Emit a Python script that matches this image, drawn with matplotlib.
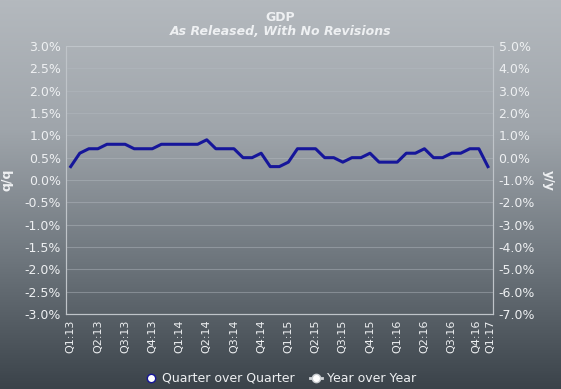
import numpy as np
import matplotlib.pyplot as plt
import matplotlib.transforms as mtransforms
from matplotlib.lines import Line2D
from matplotlib.colors import LinearSegmentedColormap

# GDP q/q as released (%), one point per release
qoq = [0.3, 0.6, 0.7, 0.7, 0.8, 0.8, 0.8, 0.7, 0.7, 0.7,
       0.8, 0.8, 0.8, 0.8, 0.8, 0.9, 0.7, 0.7, 0.7, 0.5,
       0.5, 0.6, 0.3, 0.3, 0.4, 0.7, 0.7, 0.7, 0.5, 0.5,
       0.4, 0.5, 0.5, 0.6, 0.4, 0.4, 0.4, 0.6, 0.6, 0.7,
       0.5, 0.5, 0.6, 0.6, 0.7, 0.7, 0.3]
tick_pos = [0, 3, 6, 9, 12, 15, 18, 21, 24, 27, 30, 33, 36, 39, 42, 45, 46]
tick_labels = ["Q1:13", "Q2:13", "Q3:13", "Q4:13", "Q1:14", "Q2:14", "Q3:14",
               "Q4:14", "Q1:15", "Q2:15", "Q3:15", "Q4:15", "Q1:16", "Q2:16",
               "Q3:16", "Q4:16", "Q1:17"]
left_ticks = np.arange(-3.0, 3.01, 0.5)
right_ticks = np.arange(-7.0, 5.01, 1.0)

txt = "#eef0f2"
fig = plt.figure(figsize=(5.61, 3.89), dpi=100)

# background gradient
bg = fig.add_axes([0, 0, 1, 1], zorder=-1)
cmap = LinearSegmentedColormap.from_list("bg", ["#3b434a", "#6e767d", "#9fa5ab", "#b4b9be"])
grad = np.linspace(0, 1, 256).reshape(-1, 1)
bg.imshow(grad, aspect="auto", cmap=cmap, origin="lower", extent=[0, 1, 0, 1])
bg.axis("off")

ax = fig.add_axes([0.1176, 0.1928, 0.7612, 0.6889])
ax.set_facecolor("none")
x = np.arange(len(qoq))
ax.plot(x, qoq, color="#16169a", lw=2.2, zorder=3)
ax.set_xlim(-0.52, 46.56)
ax.set_ylim(-3.0, 3.0)
ax.set_yticks(left_ticks)
ax.set_yticklabels(["%.1f%%" % v for v in left_ticks])
ax.set_xticks(tick_pos)
ax.set_xticklabels(tick_labels, rotation=90)
ax.grid(axis="y", color="#b4bac0", lw=0.8, alpha=0.45)
ax.tick_params(length=0, colors=txt, labelsize=9)
ax.tick_params(axis="x", labelsize=8, pad=4)
# nudge the last two crowded labels apart a little
xl = ax.get_xticklabels()
xl[-2].set_transform(xl[-2].get_transform() + mtransforms.ScaledTranslation(-1.5 / 72, 0, fig.dpi_scale_trans))
xl[-1].set_transform(xl[-1].get_transform() + mtransforms.ScaledTranslation(1.5 / 72, 0, fig.dpi_scale_trans))
for s in ax.spines.values():
    s.set_color("#bfc4c9")
    s.set_linewidth(0.8)
ax.set_ylabel("q/q", color=txt, fontweight="bold", fontsize=9, labelpad=8)

ax2 = ax.twinx()
ax2.set_ylim(-7.0, 5.0)
ax2.set_yticks(right_ticks)
ax2.set_yticklabels(["%.1f%%" % v for v in right_ticks])
ax2.tick_params(length=0, colors=txt, labelsize=9, pad=4)
for s in ax2.spines.values():
    s.set_color("#bfc4c9")
    s.set_linewidth(0.8)
ax2.set_ylabel("y/y", color=txt, fontweight="bold", fontsize=9, rotation=270, labelpad=14)

fig.text(0.5, 0.956, "GDP", ha="center", va="center", color=txt, fontweight="bold", fontsize=9)
fig.text(0.5, 0.918, "As Released, With No Revisions", ha="center", va="center",
         color=txt, fontweight="bold", fontstyle="italic", fontsize=9)

handles = [Line2D([], [], color="#16169a", marker="o", markersize=6, markerfacecolor="white",
                  markeredgecolor="#16169a", lw=0),
           Line2D([], [], color="#d0d4d8", marker="o", markersize=6, markerfacecolor="white",
                  markeredgecolor="#c8ccd0", lw=2)]
leg = fig.legend(handles, ["Quarter over Quarter", "Year over Year"], loc="center",
                 bbox_to_anchor=(0.5, 0.027), ncol=2, frameon=False, fontsize=9,
                 handlelength=1.0, handletextpad=0.4, columnspacing=1.2)
for t in leg.get_texts():
    t.set_color(txt)

fig.savefig("out.png", dpi=100)
